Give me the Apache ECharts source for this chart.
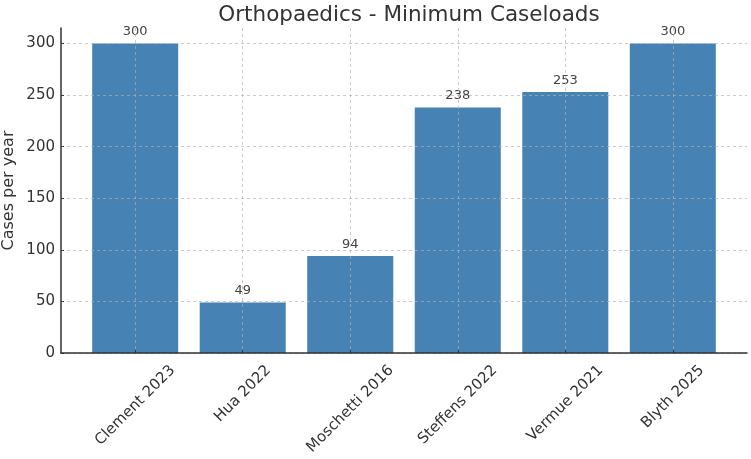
<!DOCTYPE html>
<html>
<head>
<meta charset="utf-8">
<script src="https://cdn.jsdelivr.net/npm/echarts@6/dist/echarts.min.js"></script>
<style>
  html, body { margin: 0; padding: 0; background: #fff; }
  #chart { width: 751px; height: 459px; }
</style>
</head>
<body>
<div id="chart"></div>
<script>
// data
const studies = ['Clement 2023', 'Hua 2022', 'Moschetti 2016', 'Steffens 2022', 'Vermue 2021', 'Blyth 2025']
const caseloads = [300, 49, 94, 238, 253, 300]
const yTicks = [0, 50, 100, 150, 200, 250, 300]

const font = 'DejaVu Sans'
const idx = studies.map((s, i) => i)

// matplotlib centres rotated tick labels under the tick, top aligned;
// shift each label with rich padding so it sits the same way
const ctx = document.createElement('canvas').getContext('2d')
ctx.font = '15px "' + font + '"'
const rich = {}
studies.forEach((s, i) => {
  const L = ctx.measureText(s).width
  rich['c' + i] = {
    fontSize: 15,
    fontFamily: font,
    color: '#333',
    padding: [L / 2, L / 2, 0, 0]
  }
})

const chart = echarts.init(document.getElementById('chart'))
chart.setOption({
  animation: false,
  title: {
    text: 'Orthopaedics - Minimum Caseloads',
    left: 404,
    textAlign: 'center',
    top: -1,
    textStyle: { fontFamily: font, fontSize: 21.5, fontWeight: 'normal', color: '#333' }
  },
  grid: { left: 61, right: 4, top: 28, bottom: 106, outerBoundsMode: 'none' },
  xAxis: {
    type: 'value',
    min: -0.69,
    max: 5.69,
    z: 3,
    axisLine: { onZero: false, lineStyle: { color: '#333', width: 1.5 } },
    axisTick: { show: true, inside: true, length: 3, customValues: idx, lineStyle: { color: '#333' } },
    axisLabel: {
      customValues: idx,
      rotate: 45,
      align: 'center',
      verticalAlign: 'middle',
      margin: 15,
      formatter: v => '{c' + v + '|' + studies[v] + '}',
      rich
    },
    splitLine: {
      show: true,
      customValues: idx,
      lineStyle: { color: 'rgba(176,176,176,0.65)', type: [3, 3], width: 1 }
    }
  },
  yAxis: {
    type: 'value',
    min: 0,
    max: 315,
    interval: 50,
    z: 3,
    name: 'Cases per year',
    nameLocation: 'middle',
    nameGap: 44,
    nameMoveOverlap: false,
    nameTextStyle: { fontFamily: font, fontSize: 16, color: '#333' },
    axisLine: { show: true, onZero: false, lineStyle: { color: '#333', width: 1.5 } },
    axisTick: { show: true, inside: true, length: 3, customValues: yTicks, lineStyle: { color: '#333' } },
    axisLabel: { customValues: yTicks, fontFamily: font, fontSize: 15, color: '#333', margin: 6 },
    splitLine: {
      show: true,
      customValues: yTicks,
      lineStyle: { color: 'rgba(176,176,176,0.65)', type: [3, 3], width: 1 }
    }
  },
  series: [{
    type: 'bar',
    data: caseloads.map((v, i) => [i, v]),
    barWidth: '80%',
    itemStyle: { color: '#4682b4' },
    label: {
      show: true,
      position: 'top',
      distance: 5,
      fontFamily: font,
      fontSize: 13,
      color: '#444'
    }
  }]
})
</script>
</body>
</html>
